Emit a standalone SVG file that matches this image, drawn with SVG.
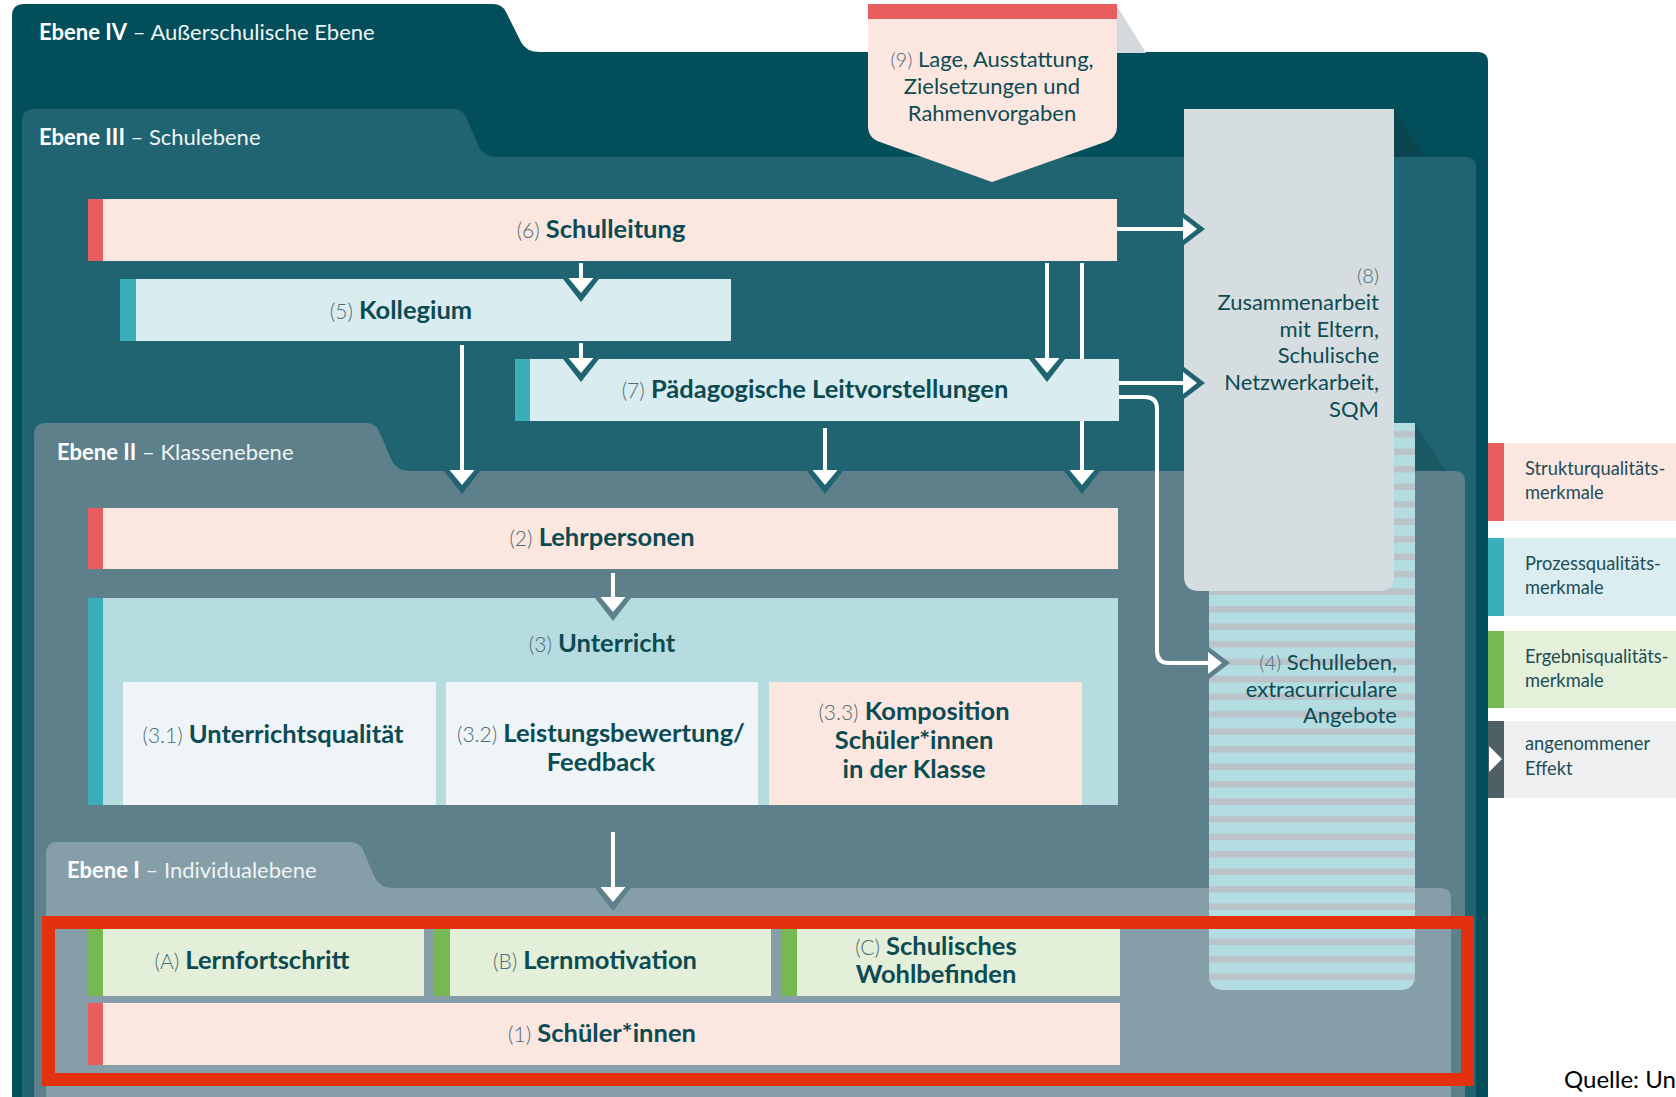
<svg xmlns="http://www.w3.org/2000/svg" width="1676" height="1097" viewBox="0 0 1676 1097">
<style>
text{font-family:"Lato","Open Sans","Liberation Sans",sans-serif;}
.lvl{font-size:22px;fill:#eef4f5;}
.lvl .b{font-weight:700;fill:#ffffff;}
.t{font-size:25.5px;font-weight:700;fill:#0d4b53;text-anchor:middle;}
.n{font-weight:300;font-size:21px;fill:#4d6b72;}
.r{font-size:22px;fill:#0d4b53;}
.r .n{font-size:20px;}
.leg{font-size:18.3px;fill:#1d4c55;}
.pink{fill:#fce6e0;}
.blue{fill:#d9ecef;}
.green{fill:#e3efd8;}
.sub{fill:#eef4f7;}
.redbar{fill:#e85e5e;}
.tealbar{fill:#3aaeb9;}
.greenbar{fill:#76b852;}
.shaft{fill:none;stroke:#ffffff;stroke-width:4;}
.wh{fill:#ffffff;}
</style>
<defs>
<pattern id="stripes" patternUnits="userSpaceOnUse" x="0" y="0" width="20" height="17.5">
<rect width="20" height="17.5" fill="#b4dde1"/>
<rect y="11" width="20" height="6.5" fill="#bac3ca"/>
</pattern>
</defs>
<rect width="1676" height="1097" fill="#ffffff"/>

<g id="panels">
<path id="panel-IV" d="M12,16 Q12,4 24,4 H493 Q502,4 506,12 L521,42 Q526,52 540,52 H1478 Q1488,52 1488,62 V1097 H12 Z" fill="#024e5a"/>
<path id="panel-III" d="M22,121 Q22,109 34,109 H453 Q462,109 466,117 L479,147 Q484,157 498,157 H1466 Q1476,157 1476,167 V1097 H22 Z" fill="#1f6470"/>
<path id="panel-II" d="M34,435 Q34,423 46,423 H366 Q375,423 379,431 L392,461 Q397,471 411,471 H1455 Q1465,471 1465,481 V1097 H34 Z" fill="#5e808a"/>
<path id="panel-I" d="M46,854 Q46,842 58,842 H350 Q359,842 363,850 L375,878 Q380,888 394,888 H1441 Q1451,888 1451,898 V1097 H46 Z" fill="#869ea7"/>
<text class="lvl" x="39" y="40"><tspan class="b">Ebene IV</tspan> – Außerschulische Ebene</text>
<text class="lvl" x="39" y="145"><tspan class="b">Ebene III</tspan> – Schulebene</text>
<text class="lvl" x="57" y="460"><tspan class="b">Ebene II</tspan> – Klassenebene</text>
<text class="lvl" x="67" y="878"><tspan class="b">Ebene I</tspan> – Individualebene</text>
</g>

<g id="shadows">
<polygon points="1117,6 1146,53 1117,53" fill="#d3d9dc"/>
<polygon points="1394,109 1425,157 1394,157" fill="#0a4550"/>
<polygon points="1415,423 1446,471 1415,471" fill="#1a5864"/>
</g>

<g id="node-9">
<path d="M868,4 H1117 V126 Q1117,138 1105,142 L992,182 L880,142 Q868,138 868,126 Z" class="pink"/>
<rect x="868" y="4" width="249" height="15" class="redbar"/>
<text class="r" x="992" y="67" text-anchor="middle"><tspan class="n">(9)</tspan> Lage, Ausstattung,</text>
<text class="r" x="992" y="94" text-anchor="middle">Zielsetzungen und</text>
<text class="r" x="992" y="121" text-anchor="middle">Rahmenvorgaben</text>
</g>

<g id="node-4">
<path d="M1209,423 H1415 V975 Q1415,990 1400,990 H1224 Q1209,990 1209,975 Z" fill="url(#stripes)"/>
<text class="r" x="1397" y="670" text-anchor="end"><tspan class="n">(4)</tspan> Schulleben,</text>
<text class="r" x="1397" y="697" text-anchor="end">extracurriculare</text>
<text class="r" x="1397" y="723" text-anchor="end">Angebote</text>
</g>

<g id="node-8">
<path d="M1184,109 H1394 V576 Q1394,591 1379,591 H1199 Q1184,591 1184,576 Z" fill="#d5dde1"/>
<text class="r" x="1379" y="283" text-anchor="end"><tspan class="n">(8)</tspan></text>
<text class="r" x="1379" y="310" text-anchor="end">Zusammenarbeit</text>
<text class="r" x="1379" y="337" text-anchor="end">mit Eltern,</text>
<text class="r" x="1379" y="363" text-anchor="end">Schulische</text>
<text class="r" x="1379" y="390" text-anchor="end">Netzwerkarbeit,</text>
<text class="r" x="1379" y="417" text-anchor="end">SQM</text>
</g>

<g id="node-6">
<rect x="88" y="199" width="1029" height="62" class="pink"/>
<rect x="88" y="199" width="15" height="62" class="redbar"/>
<text class="t" x="601" y="238"><tspan class="n">(6)</tspan> Schulleitung</text>
</g>

<g id="node-5">
<rect x="120" y="279" width="611" height="62" class="blue"/>
<rect x="120" y="279" width="16" height="62" class="tealbar"/>
<text class="t" x="401" y="319"><tspan class="n">(5)</tspan> Kollegium</text>
</g>

<g id="node-7">
<rect x="515" y="359" width="604" height="62" class="blue"/>
<rect x="515" y="359" width="15" height="62" class="tealbar"/>
<text class="t" x="815" y="398"><tspan class="n">(7)</tspan> Pädagogische Leitvorstellungen</text>
</g>

<g id="node-2">
<rect x="88" y="508" width="1030" height="61" class="pink"/>
<rect x="88" y="508" width="15" height="61" class="redbar"/>
<text class="t" x="602" y="546"><tspan class="n">(2)</tspan> Lehrpersonen</text>
</g>

<g id="node-3">
<rect x="88" y="598" width="1030" height="207" fill="#b6dce0"/>
<rect x="88" y="598" width="15" height="207" class="tealbar"/>
<text class="t" x="602" y="652"><tspan class="n">(3)</tspan> Unterricht</text>
</g>

<g id="node-3-1">
<rect x="123" y="682" width="313" height="123" class="sub"/>
<text class="t" x="273" y="743"><tspan class="n">(3.1)</tspan> Unterrichtsqualität</text>
</g>

<g id="node-3-2">
<rect x="446" y="682" width="312" height="123" class="sub"/>
<text class="t" x="601" y="742"><tspan class="n">(3.2)</tspan> Leistungsbewertung/</text>
<text class="t" x="601" y="771">Feedback</text>
</g>

<g id="node-3-3">
<rect x="769" y="682" width="313" height="123" class="pink"/>
<text class="t" x="914" y="720"><tspan class="n">(3.3)</tspan> Komposition</text>
<text class="t" x="914" y="749">Schüler*innen</text>
<text class="t" x="914" y="778">in der Klasse</text>
</g>

<g id="node-A">
<rect x="88" y="929" width="336" height="67" class="green"/>
<rect x="88" y="929" width="15" height="67" class="greenbar"/>
<text class="t" x="252" y="969"><tspan class="n">(A)</tspan> Lernfortschritt</text>
</g>

<g id="node-B">
<rect x="434" y="929" width="337" height="67" class="green"/>
<rect x="434" y="929" width="16" height="67" class="greenbar"/>
<text class="t" x="595" y="969"><tspan class="n">(B)</tspan> Lernmotivation</text>
</g>

<g id="node-C">
<rect x="782" y="929" width="338" height="67" class="green"/>
<rect x="782" y="929" width="15" height="67" class="greenbar"/>
<text class="t" x="936" y="955"><tspan class="n">(C)</tspan> Schulisches</text>
<text class="t" x="936" y="983">Wohlbefinden</text>
</g>

<g id="node-1">
<rect x="88" y="1003" width="1032" height="62" class="pink"/>
<rect x="88" y="1003" width="15" height="62" class="redbar"/>
<text class="t" x="602" y="1042"><tspan class="n">(1)</tspan> Schüler*innen</text>
</g>

<g id="connectors">
<path class="shaft" d="M581,263 V286 M581,343 V366 M1047,263 V366 M1082,263 V359 M1082,421 V478 M462,345 V478 M825,428 V478 M613,573 V605 M613,832 V895 M1117,229 H1192 M1119,383 H1192"/>
<path class="shaft" d="M1119,397 H1145 Q1157,397 1157,409 V651 Q1157,663 1169,663 H1216"/>
<g fill="#1f6470">
<polygon points="563,279 599,279 581,302"/>
<polygon points="563,359 599,359 581,382"/>
<polygon points="1029,359 1065,359 1047,382"/>
<polygon points="1064,471 1100,471 1082,494"/>
<polygon points="444,471 480,471 462,494"/>
<polygon points="807,471 843,471 825,494"/>
<polygon points="1184,213 1184,245 1205,229"/>
<polygon points="1184,367 1184,399 1205,383"/>
</g>
<g fill="#5e808a">
<polygon points="595,598 631,598 613,621"/>
<polygon points="595,888 631,888 613,911"/>
<polygon points="1209,647 1209,679 1230,663"/>
</g>
<g class="wh">
<polygon points="568.5,278 593.5,278 581,293"/>
<polygon points="568.5,358 593.5,358 581,373"/>
<polygon points="1034.5,358 1059.5,358 1047,373"/>
<polygon points="1069.5,470 1094.5,470 1082,485"/>
<polygon points="449.5,470 474.5,470 462,485"/>
<polygon points="812.5,470 837.5,470 825,485"/>
<polygon points="600.5,597 625.5,597 613,612"/>
<polygon points="600.5,887 625.5,887 613,902"/>
<polygon points="1183,218 1183,240 1197,229"/>
<polygon points="1183,372 1183,394 1197,383"/>
<polygon points="1208,652 1208,674 1222,663"/>
</g>
</g>

<rect id="highlight-frame" x="48.5" y="922.5" width="1419" height="157" fill="none" stroke="#e3300e" stroke-width="13"/>

<g id="legend">
<g id="legend-struktur">
<rect x="1488" y="443" width="188" height="78" fill="#fce6e0"/>
<rect x="1488" y="443" width="16" height="78" fill="#e85e5e"/>
<text class="leg" x="1525" y="475">Strukturqualitäts-</text>
<text class="leg" x="1525" y="499">merkmale</text>
</g>
<g id="legend-prozess">
<rect x="1488" y="538" width="188" height="78" fill="#dbedf0"/>
<rect x="1488" y="538" width="16" height="78" fill="#3aaeb9"/>
<text class="leg" x="1525" y="570">Prozessqualitäts-</text>
<text class="leg" x="1525" y="594">merkmale</text>
</g>
<g id="legend-ergebnis">
<rect x="1488" y="631" width="188" height="77" fill="#e5f0da"/>
<rect x="1488" y="631" width="16" height="77" fill="#76b852"/>
<text class="leg" x="1525" y="663">Ergebnisqualitäts-</text>
<text class="leg" x="1525" y="687">merkmale</text>
</g>
<g id="legend-effekt">
<rect x="1488" y="721" width="188" height="77" fill="#eeeff0"/>
<rect x="1488" y="721" width="16" height="77" fill="#4e6066"/>
<polygon points="1489,746 1489,772 1502,759" fill="#ffffff"/>
<text class="leg" x="1525" y="750">angenommener</text>
<text class="leg" x="1525" y="775">Effekt</text>
</g>
</g>

<text x="1564" y="1088" font-size="24" fill="#000000" style="font-family:'Lato','Liberation Sans',sans-serif">Quelle: Un</text>
</svg>
